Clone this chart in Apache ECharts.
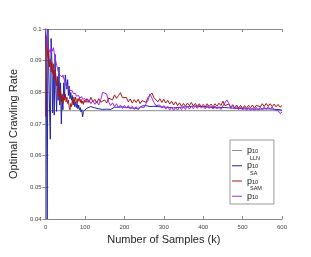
<!DOCTYPE html>
<html><head><meta charset="utf-8">
<script src="https://cdn.jsdelivr.net/npm/echarts@6/dist/echarts.min.js"></script>
<style>html,body{margin:0;padding:0;background:#fff}#c{width:311px;height:257px}</style>
</head><body><div id="c"></div>
<script>
const kEarly = [0,2,4,6,8,10,12,14,16,18,20,22,24,26,28,30,32,34,36,38,40,42,44,46,48,50,52,54,56,58,60,62,64,66,68,70,72,74,76,78,80,82,84,86,88,90,92,94,96,98,100];
const kLate = [105,110,115,120,125,130,135,140,145,150,155,160,165,170,175,180,185,190,195,200,205,210,215,220,225,230,235,240,245,250,255,260,265,270,275,280,285,290,295,300,305,310,315,320,325,330,335,340,345,350,355,360,365,370,375,380,385,390,395,400,405,410,415,420,425,430,435,440,445,450,455,460,465,470,475,480,485,490,495,500,505,510,515,520,525,530,535,540,545,550,555,560,565,570,575,580,585,590,595,600];
const xTicks = [0,100,200,300,400,500,600];
const yTicks = [0.04,0.05,0.06,0.07,0.08,0.09,0.1];

const p10 = 0.0742;

const llnEarly = [0.100,0.085,0.040,0.100,0.088,0.075,0.0652,0.097,0.090,0.0735,0.087,0.0728,0.092,0.081,0.074,0.085,0.0775,0.088,0.076,0.083,0.0700,0.079,0.0745,0.083,0.078,0.0855,0.0850,0.081,0.084,0.079,0.082,0.078,0.080,0.0775,0.079,0.076,0.0775,0.0755,0.077,0.0752,0.0765,0.0748,0.076,0.0745,0.0752,0.0738,0.0745,0.0722,0.074,0.0745,0.0742];
const llnLate = [0.0750,0.0745,0.0755,0.0758,0.0751,0.0756,0.0748,0.0754,0.0746,0.0744,0.0747,0.0743,0.0746,0.0749,0.0753,0.0757,0.0753,0.0759,0.0754,0.0758,0.0752,0.0757,0.0751,0.0756,0.0750,0.0755,0.0749,0.0754,0.0757,0.0753,0.0758,0.0761,0.0755,0.0752,0.0756,0.0750,0.0755,0.0749,0.0754,0.0749,0.0753,0.0748,0.0752,0.0747,0.0751,0.0747,0.0752,0.0748,0.0753,0.0749,0.0754,0.0750,0.0755,0.0751,0.0756,0.0752,0.0756,0.0751,0.0755,0.0750,0.0754,0.0749,0.0753,0.0748,0.0752,0.0747,0.0751,0.0747,0.0752,0.0748,0.0752,0.0747,0.0751,0.0746,0.0750,0.0745,0.0749,0.0745,0.0749,0.0744,0.0748,0.0744,0.0748,0.0743,0.0747,0.0743,0.0747,0.0743,0.0747,0.0744,0.0748,0.0744,0.0748,0.0743,0.0747,0.0742,0.0746,0.0741,0.0745,0.0743];

const saEarly = [0.0723,0.0978,0.094,0.091,0.0935,0.088,0.0905,0.0865,0.0895,0.086,0.089,0.084,0.087,0.0855,0.082,0.0845,0.079,0.0815,0.078,0.0805,0.077,0.0795,0.0765,0.0785,0.0775,0.0795,0.077,0.0785,0.0765,0.0775,0.0752,0.0745,0.0765,0.0755,0.0775,0.0765,0.0785,0.077,0.0785,0.0775,0.0765,0.078,0.0772,0.0785,0.0768,0.0778,0.0765,0.0772,0.0762,0.0775,0.0768];
const saLate = [0.0780,0.0768,0.0784,0.0770,0.0778,0.0766,0.0780,0.0769,0.0763,0.0776,0.0766,0.0782,0.0788,0.0776,0.0792,0.0781,0.0790,0.0799,0.0783,0.0780,0.0784,0.0770,0.0779,0.0766,0.0777,0.0768,0.0778,0.0764,0.0774,0.0780,0.0768,0.0784,0.0789,0.0798,0.0783,0.0782,0.0770,0.0780,0.0768,0.0778,0.0766,0.0775,0.0763,0.0772,0.0760,0.0770,0.0758,0.0767,0.0756,0.0765,0.0756,0.0766,0.0758,0.0768,0.0757,0.0765,0.0755,0.0764,0.0754,0.0762,0.0753,0.0764,0.0755,0.0763,0.0754,0.0764,0.0756,0.0766,0.0758,0.0772,0.0758,0.0754,0.0763,0.0753,0.0761,0.0751,0.0760,0.0750,0.0759,0.0749,0.0758,0.0750,0.0759,0.0751,0.0760,0.0750,0.0759,0.0762,0.0754,0.0764,0.0755,0.0765,0.0756,0.0764,0.0755,0.0763,0.0754,0.0762,0.0753,0.0758];

const samEarly = [0.100,0.097,0.095,0.094,0.0935,0.0928,0.0935,0.0925,0.0938,0.0930,0.0941,0.0925,0.0910,0.0898,0.0885,0.0878,0.0865,0.0868,0.0855,0.0850,0.0852,0.0848,0.0855,0.0845,0.0838,0.0828,0.0822,0.0815,0.0820,0.0810,0.0815,0.0806,0.0810,0.0800,0.0805,0.0797,0.0802,0.0792,0.0796,0.0788,0.0792,0.0785,0.0790,0.0782,0.0788,0.0780,0.0786,0.0778,0.0784,0.0776,0.0780];
const samLate = [0.0768,0.0777,0.0764,0.0774,0.0762,0.0772,0.0760,0.0777,0.0800,0.0804,0.0795,0.0770,0.0758,0.0767,0.0755,0.0764,0.0751,0.0760,0.0749,0.0759,0.0750,0.0758,0.0747,0.0756,0.0746,0.0755,0.0745,0.0754,0.0758,0.0752,0.0764,0.0775,0.0795,0.0782,0.0768,0.0758,0.0757,0.0760,0.0750,0.0758,0.0747,0.0755,0.0744,0.0753,0.0743,0.0752,0.0744,0.0754,0.0745,0.0755,0.0746,0.0757,0.0747,0.0756,0.0748,0.0758,0.0749,0.0759,0.0750,0.0757,0.0748,0.0758,0.0749,0.0756,0.0747,0.0757,0.0748,0.0755,0.0746,0.0757,0.0762,0.0776,0.0765,0.0750,0.0758,0.0747,0.0755,0.0745,0.0754,0.0744,0.0753,0.0743,0.0752,0.0742,0.0751,0.0743,0.0752,0.0744,0.0753,0.0745,0.0754,0.0746,0.0755,0.0747,0.0754,0.0745,0.0750,0.0742,0.0733,0.0738];

const names = ['p10','p10LLN','p10SA','p10SAM'];
const sups = {'p10':'','p10LLN':'LLN','p10SA':'SA','p10SAM':'SAM'};
const colors = ['#8c8c8c','#2323a8','#a81818','#a028ea'];

const kAll = kEarly.concat(kLate);
function pairs(vals){ return kAll.map((k,i)=>[k, vals[i]]); }

const chart = echarts.init(document.getElementById('c'));
const fmtY = v => String(+v.toFixed(2));
const mkLine = (data, i) => ({
  name: names[i], type:'line', data: data, showSymbol:false, symbol:'none',
  lineStyle:{width:1, color:colors[i]}, itemStyle:{color:colors[i]}, animation:false
});
chart.setOption({
  animation:false,
  grid:{left:41, right:29, top:29, bottom:38, show:false},
  legend:{
    orient:'vertical', left:230, top:140,
    data: names,
    icon:'path://M0,0 L0.1,0 L0.1,0.05 Z M0,6.5 L10,6.5 L10,7.5 L0,7.5 Z',
    itemWidth:10, itemHeight:7.5, itemGap:0,
    backgroundColor:'#fff', borderColor:'#999', borderWidth:1,
    padding:[0,12,3,2], borderRadius:0,
    formatter: n => {
      const s = sups[n];
      return (s ? '{sup|'+s+'}' : '{sup| }') + '\n{p|p}{sub|10}';
    },
    textStyle:{
      color:'#222',
      rich:{
        p:{fontFamily:'Liberation Sans', fontSize:9, lineHeight:7.5, color:'#222'},
        sub:{fontFamily:'Liberation Sans', fontSize:5.5, lineHeight:7.5, color:'#222', verticalAlign:'bottom', padding:[2,0,0,0]},
        sup:{fontFamily:'Liberation Sans', fontSize:5.5, lineHeight:7, color:'#222', verticalAlign:'top', padding:[0,0,0,3]}
      }
    }
  },
  xAxis:[{
    type:'value', min:0, max:600, interval:100,
    name:'Number of Samples (k)', nameLocation:'middle', nameGap:14,
    nameTextStyle:{fontFamily:'Liberation Sans', fontSize:11, color:'#262626'},
    axisLine:{show:true, lineStyle:{color:'#8a8a8a', width:1}},
    axisTick:{show:true, inside:true, length:3, lineStyle:{color:'#8a8a8a'}},
    axisLabel:{fontFamily:'Liberation Sans', fontSize:6, color:'#444', margin:5, formatter: v => xTicks.includes(v) ? String(v) : ''},
    splitLine:{show:false}
  },{
    type:'value', min:0, max:600, interval:100, position:'top',
    axisLine:{show:true, lineStyle:{color:'#8a8a8a', width:1}},
    axisTick:{show:true, inside:true, length:3, lineStyle:{color:'#8a8a8a'}},
    axisLabel:{show:false}, splitLine:{show:false}
  }],
  yAxis:[{
    type:'value', min:0.04, max:0.1, interval:0.01,
    name:'Optimal Crawling Rate', nameLocation:'middle', nameGap:17,
    nameTextStyle:{fontFamily:'Liberation Sans', fontSize:11, color:'#262626'},
    axisLine:{show:true, lineStyle:{color:'#8a8a8a', width:1}},
    axisTick:{show:true, inside:true, length:3, lineStyle:{color:'#8a8a8a'}},
    axisLabel:{fontFamily:'Liberation Sans', fontSize:6, color:'#444', margin:4, formatter: fmtY},
    splitLine:{show:false}
  },{
    type:'value', min:0.04, max:0.1, interval:0.01, position:'right',
    axisLine:{show:true, lineStyle:{color:'#8a8a8a', width:1}},
    axisTick:{show:true, inside:true, length:3, lineStyle:{color:'#8a8a8a'}},
    axisLabel:{show:false}, splitLine:{show:false}
  }],
  series:[
    mkLine([[0,p10],[600,p10]], 0),
    mkLine(pairs(llnEarly.concat(llnLate)), 1),
    mkLine(pairs(saEarly.concat(saLate)), 2),
    mkLine(pairs(samEarly.concat(samLate)), 3)
  ]
});
</script></body></html>
